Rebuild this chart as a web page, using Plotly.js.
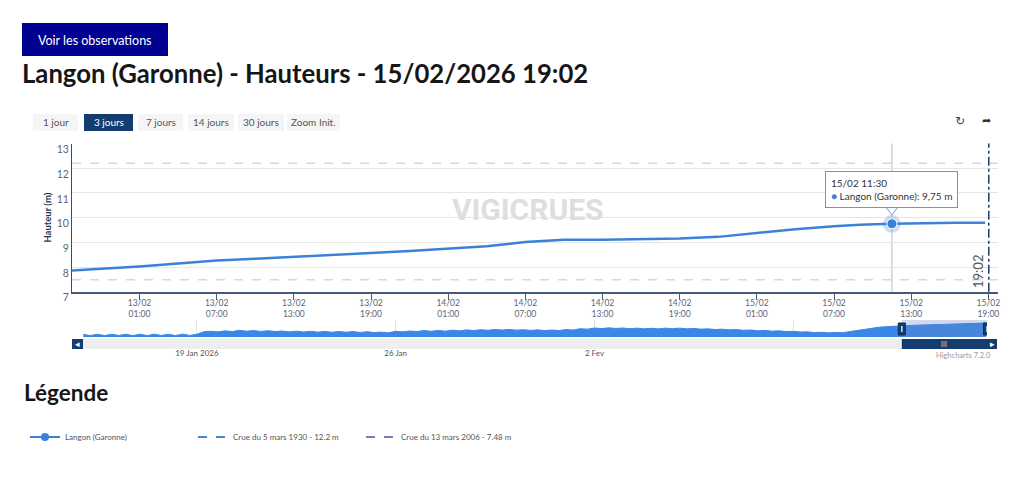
<!DOCTYPE html>
<html><head><meta charset="utf-8">
<script src="https://cdn.plot.ly/plotly-3.0.1.min.js"></script>
<style>html,body{margin:0;padding:0;background:#fff;} #chart{width:1024px;height:479px;}</style>
</head><body><div id="chart"></div>
<script>
// ---------- DATA ----------
const seriesName = 'Langon (Garonne)';
const pageTitle = 'Langon (Garonne) - Hauteurs - 15/02/2026 19:02';
const mainTimes = [
 '2026-02-12 19:00','2026-02-12 22:00',
 '2026-02-13 01:00','2026-02-13 04:00','2026-02-13 07:00','2026-02-13 10:00','2026-02-13 13:00','2026-02-13 16:00','2026-02-13 19:00','2026-02-13 22:00',
 '2026-02-14 01:00','2026-02-14 04:00','2026-02-14 07:00','2026-02-14 10:00','2026-02-14 13:00','2026-02-14 16:00','2026-02-14 19:00','2026-02-14 22:00',
 '2026-02-15 01:00','2026-02-15 04:00','2026-02-15 07:00','2026-02-15 09:00','2026-02-15 11:30','2026-02-15 14:00','2026-02-15 16:30','2026-02-15 18:45'];
const mainValues = [
 7.83, 7.92,
 8.02, 8.14, 8.26, 8.33, 8.40, 8.47, 8.57, 8.65,
 8.73, 8.84, 9.01, 9.10, 9.10, 9.12, 9.15, 9.22,
 9.38, 9.53, 9.65, 9.71, 9.75, 9.78, 9.79, 9.79];

const navTimes = [
 '2026-01-15 00:00','2026-01-15 06:00','2026-01-15 12:00','2026-01-15 18:00',
 '2026-01-16 00:00','2026-01-16 06:00','2026-01-16 12:00','2026-01-16 18:00',
 '2026-01-17 00:00','2026-01-17 06:00','2026-01-17 12:00','2026-01-17 18:00',
 '2026-01-18 00:00','2026-01-18 06:00','2026-01-18 12:00','2026-01-18 18:00',
 '2026-01-19 00:00','2026-01-19 06:00','2026-01-19 12:00','2026-01-19 18:00',
 '2026-01-20 00:00','2026-01-20 06:00','2026-01-20 12:00','2026-01-20 18:00',
 '2026-01-21 00:00','2026-01-21 06:00','2026-01-21 12:00','2026-01-21 18:00',
 '2026-01-22 00:00','2026-01-22 06:00','2026-01-22 12:00','2026-01-22 18:00',
 '2026-01-23 00:00','2026-01-23 06:00','2026-01-23 12:00','2026-01-23 18:00',
 '2026-01-24 00:00','2026-01-24 06:00','2026-01-24 12:00','2026-01-24 18:00',
 '2026-01-25 00:00','2026-01-25 06:00','2026-01-25 12:00','2026-01-25 18:00',
 '2026-01-26 00:00','2026-01-26 06:00','2026-01-26 12:00','2026-01-26 18:00',
 '2026-01-27 00:00','2026-01-27 06:00','2026-01-27 12:00','2026-01-27 18:00',
 '2026-01-28 00:00','2026-01-28 06:00','2026-01-28 12:00','2026-01-28 18:00',
 '2026-01-29 00:00','2026-01-29 06:00','2026-01-29 12:00','2026-01-29 18:00',
 '2026-01-30 00:00','2026-01-30 06:00','2026-01-30 12:00','2026-01-30 18:00',
 '2026-01-31 00:00','2026-01-31 06:00','2026-01-31 12:00','2026-01-31 18:00',
 '2026-02-01 00:00','2026-02-01 06:00','2026-02-01 12:00','2026-02-01 18:00',
 '2026-02-02 00:00','2026-02-02 06:00','2026-02-02 12:00','2026-02-02 18:00',
 '2026-02-03 00:00','2026-02-03 06:00','2026-02-03 12:00','2026-02-03 18:00',
 '2026-02-04 00:00','2026-02-04 06:00','2026-02-04 12:00','2026-02-04 18:00',
 '2026-02-05 00:00','2026-02-05 06:00','2026-02-05 12:00','2026-02-05 18:00',
 '2026-02-06 00:00','2026-02-06 06:00','2026-02-06 12:00','2026-02-06 18:00',
 '2026-02-07 00:00','2026-02-07 06:00','2026-02-07 12:00','2026-02-07 18:00',
 '2026-02-08 00:00','2026-02-08 06:00','2026-02-08 12:00','2026-02-08 18:00',
 '2026-02-09 00:00','2026-02-09 06:00','2026-02-09 12:00','2026-02-09 18:00',
 '2026-02-10 00:00','2026-02-10 06:00','2026-02-10 12:00','2026-02-10 18:00',
 '2026-02-11 00:00','2026-02-11 06:00','2026-02-11 12:00','2026-02-11 18:00',
 '2026-02-12 00:00','2026-02-12 06:00','2026-02-12 12:00','2026-02-12 18:00'];
const navValues = [
 1.8,1.0,1.9,1.0,  1.9,1.1,1.9,1.0,  1.9,1.0,2.0,1.1,  1.9,1.0,2.0,1.1,
 1.9,3.7,4.0,3.6,  4.3,3.8,4.7,4.1,  4.5,3.9,4.4,3.8,  4.2,3.6,4.1,3.5,
 4.0,3.4,3.9,3.3,  3.9,3.3,3.8,3.2,  3.7,3.1,3.4,2.9,  4.0,3.6,4.2,3.8,
 4.5,4.0,4.6,4.1,  4.8,4.3,5.0,4.5,  5.1,4.7,5.3,4.9,  5.3,4.8,5.1,4.6,
 5.0,4.5,4.9,4.5,  5.2,4.9,5.8,5.5,  6.3,5.9,6.4,6.0,  6.3,5.8,6.2,5.7,
 6.1,5.7,6.2,5.8,  6.2,5.7,6.0,5.5,  5.7,5.2,5.5,5.0,  5.2,4.7,4.9,4.4,
 4.6,4.1,4.3,3.8,  4.0,3.5,3.6,3.1,  3.3,2.9,3.2,3.0,  3.8,4.6,5.5,6.1,
 6.8,7.2,7.6,7.80];

const thresholdNames = ['Crue du 5 mars 1930 - 12.2 m', 'Crue du 13 mars 2006 - 7.48 m'];
const thresholdValues = [12.2, 7.48];

const xTickVals = ['2026-02-13 01:00','2026-02-13 07:00','2026-02-13 13:00','2026-02-13 19:00',
 '2026-02-14 01:00','2026-02-14 07:00','2026-02-14 13:00','2026-02-14 19:00',
 '2026-02-15 01:00','2026-02-15 07:00','2026-02-15 13:00','2026-02-15 19:00'];
const xTickText = ['13/02<br>01:00','13/02<br>07:00','13/02<br>13:00','13/02<br>19:00',
 '14/02<br>01:00','14/02<br>07:00','14/02<br>13:00','14/02<br>19:00',
 '15/02<br>01:00','15/02<br>07:00','15/02<br>13:00','15/02<br>19:00'];
const yTickVals = [7, 8, 9, 10, 11, 12, 13];
const navTickVals = ['2026-01-19', '2026-01-26', '2026-02-02', '2026-02-09'];
const navTickText = ['19 Jan 2026', '26 Jan', '2 Fev', ''];
const rangeButtons = ['1 jour', '3 jours', '7 jours', '14 jours', '30 jours', 'Zoom Init.'];
const activeButton = 1;
const hoverIndex = 22;               // 15/02 11:30
const nowTime = '2026-02-15 19:02';
const nowLabel = '19:02';
const viewStart = '2026-02-12 19:45';
const viewEnd = '2026-02-15 19:45';
const navStart = '2026-01-14 23:45';

// ---------- STYLE / LAYOUT ----------
const W = 1024, H = 479;
const px = v => v / W;
const py = v => 1 - v / H;
const NAVY = '#143c6e';
const LINE_BLUE = '#3a82d9';
const NAV_BLUE = '#3a87e8';
const CF = 'Lato, "Open Sans", sans-serif';

const traces = [];
thresholdValues.forEach((v, i) => traces.push({
  x: [viewStart, viewEnd], y: [v, v], mode: 'lines', xaxis: 'x', yaxis: 'y',
  line: {color: '#d0d9e5', width: 1.5, dash: 'dash'}, showlegend: false, hoverinfo: 'skip'
}));
traces.push({x: mainTimes, y: mainValues, mode: 'lines', name: seriesName,
  line: {color: LINE_BLUE, width: 2.5}, showlegend: false, hoverinfo: 'skip'});
traces.push({x: [mainTimes[hoverIndex]], y: [mainValues[hoverIndex]], mode: 'markers',
  marker: {size: 18, color: 'rgba(58,130,217,0.25)'}, showlegend: false, hoverinfo: 'skip'});
traces.push({x: [mainTimes[hoverIndex]], y: [mainValues[hoverIndex]], mode: 'markers',
  marker: {size: 10, color: LINE_BLUE, line: {color: '#ffffff', width: 1}}, showlegend: false, hoverinfo: 'skip'});
traces.push({x: navTimes.concat(mainTimes), y: navValues.concat(mainValues), xaxis: 'x2', yaxis: 'y2',
  mode: 'lines', fill: 'tozeroy', fillcolor: NAV_BLUE, line: {color: NAV_BLUE, width: 1},
  showlegend: false, hoverinfo: 'skip'});
// legend entries
traces.push({x: [null], y: [null], mode: 'lines+markers', name: seriesName,
  line: {color: LINE_BLUE, width: 2}, marker: {color: LINE_BLUE, size: 8}});
const legendColors = ['#4a84cc', '#7c7ab8'];
thresholdNames.forEach((n, i) => traces.push({x: [null], y: [null], mode: 'lines', name: n,
  line: {color: legendColors[i], width: 2, dash: 'dash'}}));

const shapes = [];
const annotations = [];
function note(o) { annotations.push(Object.assign({xref: 'paper', yref: 'paper', xanchor: 'center', yanchor: 'middle', showarrow: false}, o)); }

// "Voir les observations" button
shapes.push({type: 'rect', xref: 'paper', yref: 'paper', x0: px(22), x1: px(168), y0: py(56), y1: py(23),
  fillcolor: '#000091', line: {width: 0}});
note({x: px(95), y: py(40), text: 'Voir les observations', font: {family: 'Lato, sans-serif', size: 12.5, color: '#ffffff'}});

// range buttons
const btnX = [[33, 78], [84, 133], [138, 183], [188, 234], [238, 284], [287, 340]];
rangeButtons.forEach((b, i) => {
  const act = i === activeButton;
  shapes.push({type: 'rect', xref: 'paper', yref: 'paper', x0: px(btnX[i][0]), x1: px(btnX[i][1]),
    y0: py(131), y1: py(114), fillcolor: act ? NAVY : '#f5f5f5', line: {width: 0}});
  note({x: px((btnX[i][0] + btnX[i][1]) / 2), y: py(122.5), text: b,
    font: {family: CF, size: 10, color: act ? '#ffffff' : '#555555'}});
});
// export icons
note({x: px(960), y: py(121), text: '↻', font: {family: 'DejaVu Sans', size: 12, color: '#444'}});
note({x: px(986), y: py(121), text: '➦', font: {family: 'DejaVu Sans', size: 11, color: '#333'}});

// watermark
note({x: px(528), y: py(209), text: '<b>VIGICRUES</b>', font: {family: 'Roboto, sans-serif', size: 30, color: '#dedede'}});

// crosshair + now line
shapes.push({type: 'line', xref: 'x', yref: 'y domain', x0: mainTimes[hoverIndex], x1: mainTimes[hoverIndex], y0: 0, y1: 1,
  line: {color: '#bdbdbd', width: 1}, layer: 'below'});
shapes.push({type: 'line', xref: 'x', yref: 'y domain', x0: nowTime, x1: nowTime, y0: 0, y1: 1,
  line: {color: '#1d3d6b', width: 1.5, dash: 'dashdot'}});
annotations.push({xref: 'x', yref: 'y', x: nowTime, y: 7, xanchor: 'right', yanchor: 'bottom', xshift: -1, yshift: 2,
  text: nowLabel, textangle: -90, showarrow: false, font: {family: CF, size: 13, color: '#555'}});

// tooltip
const hv = mainValues[hoverIndex].toFixed(2).replace('.', ',');
const ht = mainTimes[hoverIndex];
const htLabel = ht.slice(8, 10) + '/' + ht.slice(5, 7) + ' ' + ht.slice(11, 16);
annotations.push({xref: 'x', yref: 'y', x: ht, y: mainValues[hoverIndex], xanchor: 'center', yanchor: 'bottom', yshift: 16,
  text: htLabel + '<br><span style="color:' + LINE_BLUE + '">●</span> ' + seriesName + ': ' + hv + ' m',
  align: 'left', showarrow: false, bgcolor: 'rgba(255,255,255,0.9)', bordercolor: '#5b9be0', borderwidth: 1, borderpad: 5,
  font: {family: CF, size: 10, color: '#333'}});
shapes.push({type: 'path', xref: 'x', yref: 'y', xsizemode: 'pixel', ysizemode: 'pixel',
  xanchor: ht, yanchor: mainValues[hoverIndex], path: 'M-6,16.5 L0,9 L6,16.5',
  fillcolor: '#ffffff', line: {color: '#5b9be0', width: 1}});

// navigator mask, scrollbar
shapes.push({type: 'rect', xref: 'x2', yref: 'y2 domain', x0: viewStart, x1: viewEnd, y0: 0, y1: 1,
  fillcolor: 'rgba(102,133,194,0.3)', line: {width: 0}});
shapes.push({type: 'rect', xref: 'paper', yref: 'paper', x0: px(83), x1: px(987), y0: py(349), y1: py(339),
  fillcolor: '#eeeeee', line: {width: 0}});
shapes.push({type: 'rect', xref: 'paper', yref: 'paper', x0: px(72), x1: px(83), y0: py(349), y1: py(339),
  fillcolor: NAVY, line: {width: 0}});
shapes.push({type: 'rect', xref: 'paper', yref: 'paper', x0: px(987), x1: px(997), y0: py(349), y1: py(339),
  fillcolor: NAVY, line: {width: 0}});
shapes.push({type: 'rect', xref: 'x2', yref: 'paper', x0: viewStart, x1: viewEnd, y0: py(349), y1: py(339),
  fillcolor: NAVY, line: {width: 0}});
[viewStart, viewEnd].forEach(t => {
  shapes.push({type: 'rect', xref: 'x2', yref: 'paper', xsizemode: 'pixel', xanchor: t, x0: -3.5, x1: 3.5,
    y0: py(335), y1: py(323), fillcolor: NAVY, line: {color: '#0b2a52', width: 1}});
  shapes.push({type: 'line', xref: 'x2', yref: 'paper', xsizemode: 'pixel', xanchor: t, x0: 0, x1: 0,
    y0: py(332), y1: py(326), line: {color: '#d8e0ea', width: 1.5}});
});
note({x: px(77.5), y: py(344), text: '◂', font: {family: 'DejaVu Sans', size: 9, color: '#fff'}});
note({x: px(992), y: py(344), text: '▸', font: {family: 'DejaVu Sans', size: 9, color: '#fff'}});
note({xref: 'x2', x: '2026-02-14 07:45', y: py(344), text: 'III', font: {family: CF, size: 7, color: '#c8d3e3'}});
note({x: px(993), y: py(355), xanchor: 'right', text: 'Highcharts 7.2.0', font: {family: CF, size: 7.5, color: '#999'}});

// Légende heading
note({x: px(22), y: py(392), xanchor: 'left', text: '<b>Légende</b>', font: {family: 'Lato, sans-serif', size: 22.5, color: '#161616'}});

const layout = {
  width: W, height: H, margin: {l: 0, r: 0, t: 0, b: 0},
  paper_bgcolor: '#fff', plot_bgcolor: 'rgba(0,0,0,0)',
  title: {text: '<b>' + pageTitle + '</b>', x: px(22), xanchor: 'left', xref: 'paper', y: py(74), yanchor: 'middle', yref: 'paper',
    font: {family: 'Lato, sans-serif', size: 25.7, color: '#161616'}},
  hovermode: false,
  showlegend: true,
  legend: {orientation: 'h', x: px(25), xanchor: 'left', y: py(437), yanchor: 'middle',
    font: {family: CF, size: 8, color: '#555'}, entrywidth: 123, entrywidthmode: 'pixels', itemwidth: 30, bgcolor: 'rgba(0,0,0,0)'},
  xaxis: {domain: [px(72), px(998)], anchor: 'y', type: 'date', range: [viewStart, viewEnd],
    tickmode: 'array', tickvals: xTickVals, ticktext: xTickText, showgrid: false, zeroline: false,
    showline: true, linecolor: '#46597a', linewidth: 2, ticks: 'outside', ticklen: 6, tickcolor: '#46597a', tickwidth: 1,
    ticklabelstandoff: -4,
    tickfont: {family: CF, size: 8.5, color: '#5b6577'}, fixedrange: true},
  yaxis: {domain: [py(291.7), py(143.5)], anchor: 'x', range: [7, 13], tickmode: 'array', tickvals: yTickVals,
    showgrid: true, gridcolor: '#e6e6e6', gridwidth: 1, zeroline: false, showline: true, linecolor: '#3c4d6b', linewidth: 1,
    ticks: '', ticklabelshift: 6, ticklabelstandoff: 0,
    tickfont: {family: CF, size: 10.5, color: '#5b6577'},
    title: {text: 'Hauteur (m)', standoff: 3, font: {family: CF, size: 9.5, weight: 700, color: '#1c3457'}}, fixedrange: true},
  xaxis2: {domain: [px(83), px(987)], anchor: 'y2', type: 'date', range: [navStart, viewEnd],
    tickmode: 'array', tickvals: navTickVals, ticktext: navTickText, showgrid: true, gridcolor: '#e2e2e2',
    ticks: '', showline: false, zeroline: false, ticklabelstandoff: 10,
    tickfont: {family: CF, size: 8, color: '#555'}, fixedrange: true},
  yaxis2: {domain: [py(337), py(320)], anchor: 'x2', range: [0, 11.9], visible: false, fixedrange: true},
  shapes: shapes, annotations: annotations
};

Plotly.newPlot('chart', traces, layout, {staticPlot: true, displayModeBar: false});
</script></body></html>
